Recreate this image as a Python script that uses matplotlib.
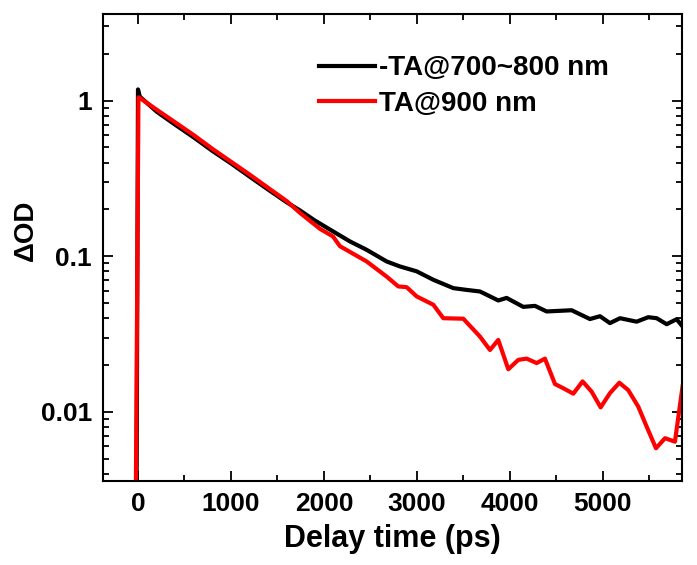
import matplotlib.pyplot as plt
from matplotlib.ticker import FixedLocator, FixedFormatter, LogLocator, NullFormatter, MultipleLocator

plt.rcParams['font.family'] = ['Liberation Sans', 'DejaVu Sans']
plt.rcParams['font.weight'] = 'bold'

# -TA@700~800 nm (black)
t_black = [-15, 0, 20, 200, 400, 600, 800, 1000, 1200, 1400, 1600, 1742, 1900, 2097, 2280,
           2459, 2674, 2817, 2997, 3176, 3391, 3534, 3677, 3713, 3874, 3964, 4143, 4269,
           4394, 4663, 4860, 4968, 5075, 5183, 5362, 5487, 5577, 5685, 5792, 5846]
od_black = [0.003, 1.18, 1.06, 0.85, 0.70, 0.58, 0.475, 0.395, 0.325, 0.268, 0.222, 0.197,
            0.170, 0.1445, 0.1245, 0.110, 0.0926, 0.086, 0.080, 0.0706, 0.0624, 0.0608,
            0.0594, 0.058, 0.052, 0.054, 0.0473, 0.048, 0.0442, 0.045, 0.0395, 0.0412,
            0.0372, 0.040, 0.038, 0.0406, 0.040, 0.0366, 0.0394, 0.036]

# TA@900 nm (red)
t_red = [-25, 5, 20, 200, 400, 600, 800, 1000, 1200, 1400, 1600, 1742, 1957, 2097, 2172,
         2459, 2674, 2799, 2889, 2997, 3176, 3283, 3498, 3677, 3785, 3874, 3982, 4090,
         4179, 4287, 4376, 4484, 4573, 4681, 4781, 4878, 4975, 5075, 5176, 5272, 5380,
         5470, 5570, 5667, 5774, 5856]
od_red = [0.002, 1.05, 1.04, 0.875, 0.725, 0.60, 0.49, 0.405, 0.335, 0.275, 0.226, 0.190,
          0.150, 0.134, 0.116, 0.0926, 0.074, 0.064, 0.0633, 0.0552, 0.0488, 0.040, 0.0397,
          0.0305, 0.025, 0.029, 0.0188, 0.0216, 0.022, 0.0206, 0.022, 0.0151, 0.0142,
          0.0131, 0.0157, 0.0135, 0.0107, 0.0132, 0.0154, 0.0138, 0.0108, 0.00804,
          0.00584, 0.00678, 0.00644, 0.0146]

fig = plt.figure(figsize=(6.97, 5.65), dpi=100)
ax = fig.add_axes([0.1478, 0.1487, 0.9785 - 0.1478, 0.9752 - 0.1487])

ax.plot(t_black, od_black, color='black', lw=3, label='-TA@700~800 nm')
ax.plot(t_red, od_red, color='#ff0000', lw=3, label='TA@900 nm')

ax.set_yscale('log')
ax.set_xlim(-376, 5850)
ax.set_ylim(0.0036, 3.6)

ax.xaxis.set_major_locator(MultipleLocator(1000))
ax.xaxis.set_minor_locator(MultipleLocator(500))
ax.yaxis.set_major_locator(FixedLocator([0.01, 0.1, 1]))
ax.yaxis.set_major_formatter(FixedFormatter(['0.01', '0.1', '1']))
ax.yaxis.set_minor_locator(LogLocator(base=10, subs=range(2, 10)))
ax.yaxis.set_minor_formatter(NullFormatter())

ax.tick_params(which='both', direction='in', top=True, right=True, width=1.3)
ax.tick_params(which='major', length=7, labelsize=19, pad=8)
ax.tick_params(which='minor', length=4)
for lab in ax.get_xticklabels() + ax.get_yticklabels():
    lab.set_fontweight('bold')
for s in ax.spines.values():
    s.set_linewidth(1.5)

ax.set_xlabel('Delay time (ps)', fontsize=22, fontweight='bold', labelpad=6)
ax.set_ylabel('ΔOD', fontsize=20, fontweight='bold')
ax.yaxis.set_label_coords(-0.11, 0.537)

ax.legend(loc='upper left', bbox_to_anchor=(0.458, 0.902), bbox_transform=fig.transFigure,
          frameon=False, handlelength=2.0, handletextpad=0.15,
          borderpad=0, borderaxespad=0, labelspacing=0.33,
          prop={'weight': 'bold', 'size': 20})

fig.savefig('out.png', dpi=100)
